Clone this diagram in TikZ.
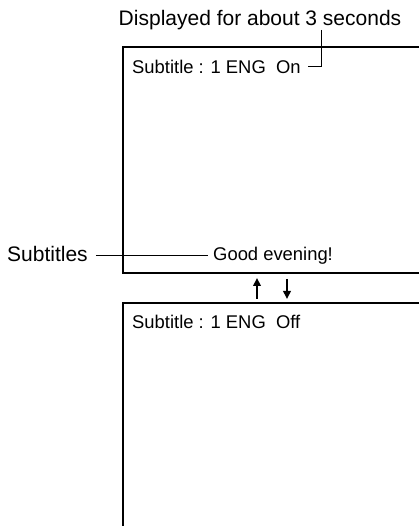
\documentclass[tikz,border=0pt]{standalone}
\usepackage{fontspec}
\setmainfont{Liberation Sans}
\usepackage{tikz}
\usetikzlibrary{arrows.meta,positioning,calc}

\begin{document}
\begin{tikzpicture}[x=1pt,y=1pt,
  screen/.style={draw=black, line width=2pt, minimum width=330pt, anchor=north west, inner sep=0pt},
  msg/.style={anchor=west, inner sep=0pt, font=\fontsize{18.4}{22}\selectfont},
  callout/.style={inner sep=0pt, font=\fontsize{21}{25}\selectfont},
  lead/.style={line width=1pt},
  arr/.style={-{Triangle[length=8pt,width=7.5pt]}, line width=2pt}
]
\useasboundingbox (0,0) rectangle (419,526);
\node[screen, minimum height=226pt] (scron)  at (122,480) {};
\node[screen, minimum height=260pt] (scroff) at (122,224) {};

\node[callout] (shown) at (260,506) {Displayed for about 3 seconds};
\node[msg] (subon)  at (132,459) {Subtitle : 1 ENG\ \ On};
\node[msg] (suboff) at (132,204) {Subtitle : 1 ENG\ \ Off};
\node[msg] (greet)  at (213,270) {Good evening!};
\node[callout, anchor=west] (subs) at (7,272) {Subtitles};

\coordinate (upS) at (257,227);
\coordinate (upE) at (257,248);
\coordinate (dnS) at (287,247);
\coordinate (dnE) at (287,227);
\coordinate (tick) at (321,496);

\draw[lead] (tick) |- ([xshift=7pt]subon.east);
\draw[lead] ([xshift=8pt]subs.east |- greet.west) -- ([xshift=-5pt]greet.west);
\draw[arr] (upS) -- (upE);
\draw[arr] (dnS) -- (dnE);
\end{tikzpicture}
\end{document}
